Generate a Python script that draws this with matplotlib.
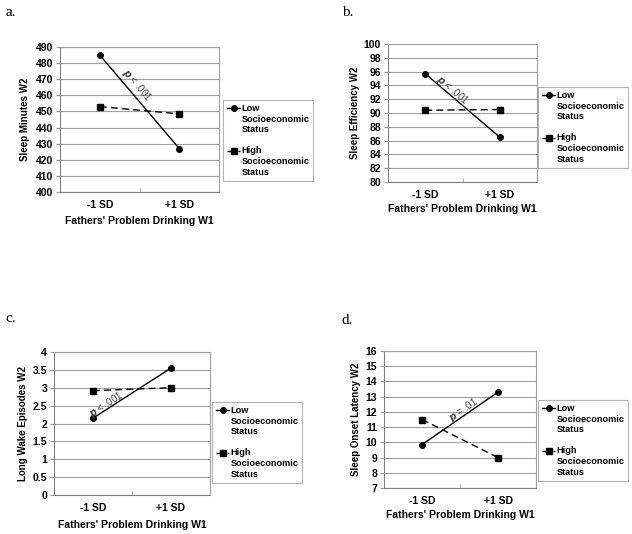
"""Fathers' problem drinking x SES interaction plots."""
import numpy as np
import matplotlib
matplotlib.use('Agg')
import matplotlib.pyplot as plt

plt.rcParams['font.family'] = ['Liberation Sans', 'DejaVu Sans']
plt.rcParams['font.weight'] = 'bold'

x_labels = ['-1 SD', '+1 SD']
x_title = "Fathers' Problem Drinking W1"
series_names = ['Low\nSocioeconomic\nStatus', 'High\nSocioeconomic\nStatus']

panel_letters = ['a.', 'b.', 'c.', 'd.']
y_titles = ['Sleep Minutes W2', 'Sleep Efficiency W2',
            'Long Wake Episodes W2', 'Sleep Onset Latency W2']

low_ses = [[485.0, 427.0], [95.7, 86.5], [2.15, 3.55], [9.85, 13.3]]
high_ses = [[453.0, 448.5], [90.4, 90.5], [2.92, 3.0], [11.5, 9.0]]
p_texts = ['< .001', '< .001', '< .001', '= .01']

y_ranges = [(400, 490, 10), (80, 100, 2), (0, 4, 0.5), (7, 16, 1)]
y_ticklabels = [None, None,
                ['0', '0.5', '1', '1.5', '2', '2.5', '3', '3.5', '4'], None]

W, H = 632, 534
DPI = 100
fig = plt.figure(figsize=(W / DPI, H / DPI), dpi=DPI)


def px_box(l, t, r, b):
    return [l / W, 1 - b / H, (r - l) / W, (b - t) / H]


axes_px = [(60, 47, 219, 192), (388, 44, 537, 182),
           (54, 352, 210, 495), (384, 351, 536, 488)]
legend_px = [(223, 100), (538, 87), (212, 402), (538, 400)]
letter_px = [(5, 13), (342, 13), (5, 319), (341, 320)]
ylabel_x = [25, 355, 23, 356]
xlabel_y = [221, 209, 525, 515]
# where the p label sits along the low-SES line (fraction, px to the side)
p_pos = [(0.38, 8.5), (0.32, 5.5), (0.2, 4.5), (0.58, 5.0)]

grid_color = '#a0a0a0'
leg_size = 6.6
leg_linespacing = 1.27
legends = []

for i in range(4):
    ax = fig.add_axes(px_box(*axes_px[i]))
    lo, hi, step = y_ranges[i]
    xs = np.array([0.5, 1.5])
    ax.plot(xs, low_ses[i], color='black', lw=1.0, marker='o', ms=4,
            label=series_names[0], zorder=3)
    ax.plot(xs, high_ses[i], color='black', lw=1.0, ls=(0, (5, 3)),
            marker='s', ms=4.5, label=series_names[1], zorder=3)
    ax.set_xlim(0, 2)
    ax.set_ylim(lo, hi)
    ticks = np.arange(lo, hi + step / 2, step)
    ax.set_yticks(ticks)
    if y_ticklabels[i] is not None:
        ax.set_yticklabels(y_ticklabels[i])
    ax.set_xticks(xs)
    ax.set_xticklabels(x_labels)
    ax.set_xticks([1.0], minor=True)
    ax.tick_params(axis='x', which='major', length=0, pad=6, labelsize=7.5)
    ax.tick_params(axis='x', which='minor', length=3, color=grid_color,
                   direction='in')
    ax.tick_params(axis='y', length=3, color=grid_color, labelsize=7.5, pad=2)
    ax.yaxis.grid(True, color=grid_color, lw=0.8)
    ax.set_axisbelow(True)
    for s in ax.spines.values():
        s.set_color(grid_color)
        s.set_linewidth(0.8)
    ax.spines['left'].set_color('#808080')
    ax.spines['bottom'].set_color('#808080')

    fig.text(ylabel_x[i] / W, 1 - (axes_px[i][1] + axes_px[i][3]) / 2 / H,
             y_titles[i], rotation=90, ha='center', va='center',
             fontsize=7, fontweight='bold')
    fig.text((axes_px[i][0] + axes_px[i][2]) / 2 / W, 1 - xlabel_y[i] / H,
             x_title, ha='center', va='center', fontsize=7.5,
             fontweight='bold')
    fig.text(letter_px[i][0] / W, 1 - letter_px[i][1] / H, panel_letters[i],
             ha='left', va='center', fontsize=11,
             family=['Liberation Serif'], fontweight='normal')

    # p-value label rotated along the low SES line
    p0 = ax.transData.transform((xs[0], low_ses[i][0]))
    p1 = ax.transData.transform((xs[1], low_ses[i][1]))
    ang = np.degrees(np.arctan2(p1[1] - p0[1], p1[0] - p0[0]))
    f, off = p_pos[i]
    xm = xs[0] + f * (xs[1] - xs[0])
    ym = low_ses[i][0] + f * (low_ses[i][1] - low_ses[i][0])
    nx, ny = -np.sin(np.radians(ang)), np.cos(np.radians(ang))
    ax.annotate(r'$\it{p}$ ' + p_texts[i], (xm, ym),
                xytext=(nx * off * 0.72, ny * off * 0.72),
                textcoords='offset points', rotation=ang,
                rotation_mode='anchor', ha='center', va='center',
                fontsize=7, fontweight='normal', color='#404040')

    l, t = legend_px[i]
    leg = ax.legend(loc='upper left', bbox_to_anchor=(l / W, 1 - t / H),
                    bbox_transform=fig.transFigure,
                    frameon=True, fancybox=False, fontsize=leg_size,
                    handlelength=1.5, handletextpad=0.15, borderpad=0.4,
                    labelspacing=1.3, borderaxespad=0)
    leg.get_frame().set_edgecolor(grid_color)
    leg.get_frame().set_linewidth(0.8)
    for txt in leg.get_texts():
        txt.set_fontweight('bold')
        txt.set_linespacing(leg_linespacing)
    legends.append(leg)

# put the legend handles level with the first line of each label
fig.canvas.draw()
renderer = fig.canvas.get_renderer()
for leg in legends:
    props = leg.get_texts()[0].get_fontproperties()
    _, h_lp, _ = renderer.get_text_width_height_descent('lp', props, ismath=False)
    shift = leg_linespacing * h_lp * 72 / DPI
    for hnd in leg.legend_handles:
        hnd.set_ydata(np.asarray(hnd.get_ydata()) + shift)

fig.savefig('out.png', dpi=DPI)
